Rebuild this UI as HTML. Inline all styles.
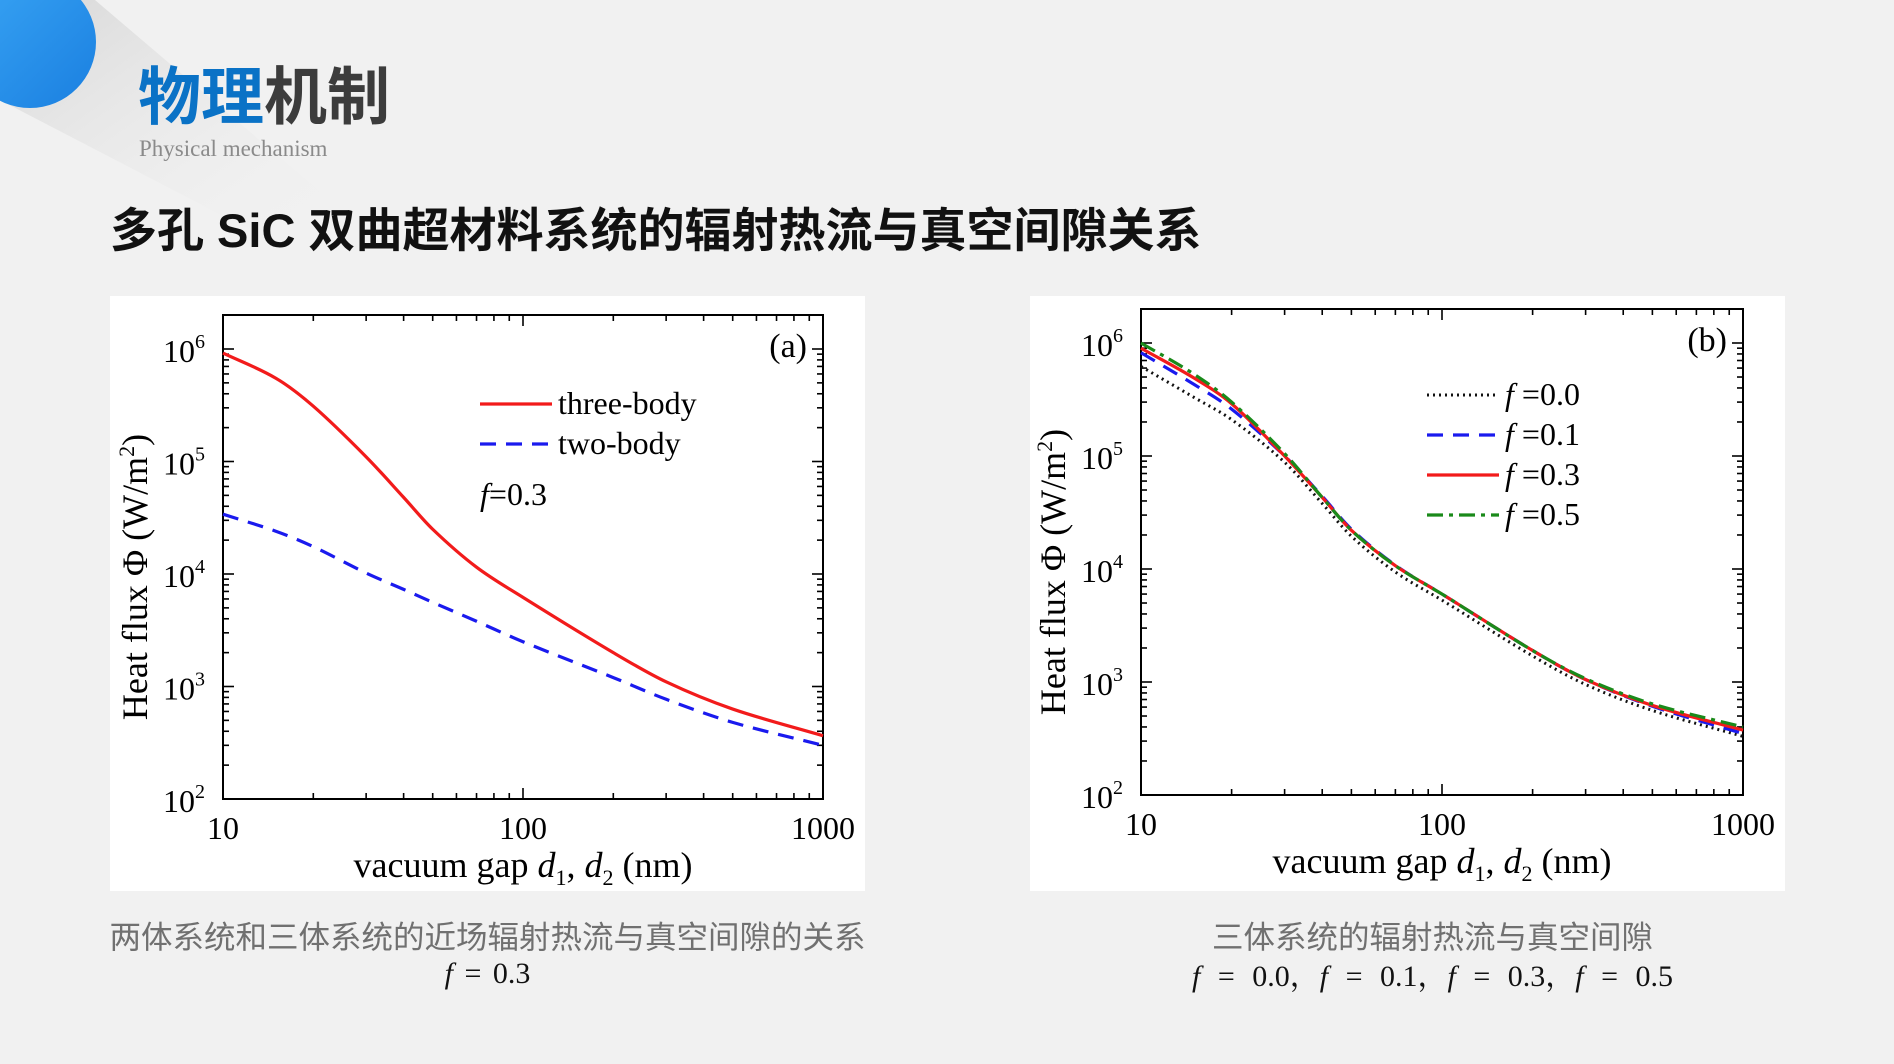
<!DOCTYPE html>
<html><head><meta charset="utf-8">
<style>
html,body{margin:0;padding:0}
body{width:1894px;height:1064px;background:#f1f1f1;position:relative;overflow:hidden;font-family:"Liberation Sans","Noto Sans CJK SC",sans-serif}
.abs{position:absolute}
.panel{position:absolute;background:#fff}
svg text{font-family:"Liberation Serif","Noto Serif CJK SC",serif}
</style></head>
<body>
<svg class="abs" style="left:0;top:0" width="420" height="300">
  <defs>
    <linearGradient id="sh" x1="0" y1="0" x2="1" y2="1">
      <stop offset="0" stop-color="#d6d6d6"/><stop offset="1" stop-color="#f1f1f1" stop-opacity="0"/>
    </linearGradient>
    <linearGradient id="cb" x1="0" y1="0" x2="1" y2="1">
      <stop offset="0" stop-color="#3aa6f5"/><stop offset="1" stop-color="#1a7fe0"/>
    </linearGradient>
  </defs>
  <polygon points="60,0 95,0 330,200 250,230 0,100 0,60" fill="url(#sh)"/>
  <circle cx="30" cy="42" r="66" fill="url(#cb)"/>
</svg>
<div class="abs" style="left:138px;top:58px;font-size:63px;font-weight:bold;line-height:80px;font-family:'Liberation Sans','Noto Sans CJK SC',sans-serif"><span style="color:#0a72c6">物理</span><span style="color:#3c3c3c">机制</span></div>
<div class="abs" style="left:139px;top:136px;font-size:23px;color:#8a8a8a;font-family:'Liberation Serif',serif">Physical mechanism</div>
<div class="abs" style="left:110px;top:200px;font-size:47px;font-weight:bold;color:#111;line-height:62px;white-space:nowrap">多孔 SiC 双曲超材料系统的辐射热流与真空间隙关系</div>

<div class="panel" style="left:110px;top:296px;width:755px;height:595px"></div>
<div class="panel" style="left:1030px;top:296px;width:755px;height:595px"></div>

<svg id="chart" class="abs" style="left:0;top:0" width="1894" height="1064"></svg>

<div class="abs" style="left:40px;width:895px;text-align:center;top:916px;font-size:31.5px;color:#707070;line-height:42px;white-space:nowrap">两体系统和三体系统的近场辐射热流与真空间隙的关系</div>
<div class="abs" style="left:60px;width:855px;text-align:center;top:957px;font-size:30px;color:#111;font-family:'Liberation Serif',serif;word-spacing:4px"><i>f</i> = 0.3</div>
<div class="abs" style="left:985px;width:895px;text-align:center;top:916px;font-size:31.5px;color:#707070;line-height:42px">三体系统的辐射热流与真空间隙</div>
<div class="abs" style="left:985px;width:895px;text-align:center;top:951px;font-size:30px;color:#111;font-family:'Liberation Serif','Noto Serif CJK SC',serif;word-spacing:10px;white-space:nowrap"><i>f</i> = 0.0，<i>f</i> = 0.1，<i>f</i> = 0.3，<i>f</i> = 0.5</div>

<script>
// ---- data ----
const gapsA = [10, 15, 20, 30, 40, 50, 70, 100, 200, 300, 500, 1000];
const threeBody = [9.2e5, 5.5e5, 3.1e5, 1.1e5, 4.8e4, 2.5e4, 1.15e4, 6.2e3, 2.0e3, 1.1e3, 630, 365];
const twoBody = [3.4e4, 2.4e4, 1.75e4, 1.02e4, 7.3e3, 5.6e3, 3.8e3, 2.5e3, 1.2e3, 770, 480, 300];
const gapsB = [10, 15, 20, 30, 40, 50, 70, 100, 200, 300, 500, 1000];
const f00 = [6.2e5, 3.3e5, 2.1e5, 8.8e4, 3.8e4, 1.95e4, 9.4e3, 5.3e3, 1.7e3, 950, 560, 330];
const f01 = [8.2e5, 4.3e5, 2.6e5, 1.0e5, 4.4e4, 2.25e4, 1.08e4, 6.0e3, 1.9e3, 1.05e3, 610, 350];
const f03 = [9.0e5, 4.9e5, 2.9e5, 1.0e5, 4.3e4, 2.2e4, 1.07e4, 6.0e3, 1.9e3, 1.05e3, 620, 375];
const f05 = [1.0e6, 5.3e5, 3.0e5, 1.05e5, 4.3e4, 2.2e4, 1.07e4, 6.0e3, 1.9e3, 1.07e3, 640, 400];
const xTickLabels = ["10", "100", "1000"];
const yTickExps = [2, 3, 4, 5, 6];

const NS = "http://www.w3.org/2000/svg";
const svg = document.getElementById("chart");
function mk(tag, attrs, parent) {
  const e = document.createElementNS(NS, tag);
  for (const k in attrs) e.setAttribute(k, attrs[k]);
  (parent || svg).appendChild(e);
  return e;
}

function makeChart(cfg) {
  const g = mk("g", {});
  
  
  const X = v => cfg.x0 + (Math.log10(v) - 1) / 2 * (cfg.x1 - cfg.x0);
  const Y = v => cfg.y2 - (Math.log10(v) - 2) / 4 * (cfg.y2 - cfg.y6);
  const top = cfg.top, bot = cfg.y2;
  for (let d = 1; d <= 2; d++) for (let m = 1; m <= 9; m++) {
    const v = m * Math.pow(10, d);
    const x = X(v), len = (m === 1) ? 11 : 6;
    mk("line", {x1: x, x2: x, y1: bot, y2: bot - len, stroke: "#000", "stroke-width": 1.6}, g);
    mk("line", {x1: x, x2: x, y1: top, y2: top + len, stroke: "#000", "stroke-width": 1.6}, g);
  }
  for (let d = 2; d <= 6; d++) for (let m = 1; m <= 9; m++) {
    const v = m * Math.pow(10, d); const y = Y(v);
    if (y < top) continue;
    const len = (m === 1) ? 11 : 6;
    mk("line", {x1: cfg.x0, x2: cfg.x0 + len, y1: y, y2: y, stroke: "#000", "stroke-width": 1.6}, g);
    mk("line", {x1: cfg.x1, x2: cfg.x1 - len, y1: y, y2: y, stroke: "#000", "stroke-width": 1.6}, g);
  }
  const frame = mk("rect", {x: cfg.x0, y: top, width: cfg.x1 - cfg.x0, height: bot - top, fill: "none", stroke: "#000", "stroke-width": 2}, g);
  
  
  xTickLabels.forEach(s => {
    const t = mk("text", {x: X(+s), y: bot + 40, "text-anchor": "middle", "font-size": 32}, g);
    t.textContent = s;
    
    
  });
  yTickExps.forEach(e => {
    const t = mk("text", {x: cfg.x0 - 18, y: Y(Math.pow(10, e)) + 13, "text-anchor": "end", "font-size": 32}, g);
    t.textContent = "10";
    const s = mk("tspan", {"font-size": 20, dy: -14}, t); s.textContent = e;
    
    
  });
  const xt = mk("text", {x: (cfg.x0 + cfg.x1) / 2, y: bot + 78, "text-anchor": "middle", "font-size": 36}, g);
  xt.innerHTML = 'vacuum gap <tspan font-style="italic">d</tspan><tspan font-size="22" dy="8">1</tspan><tspan dy="-8">, </tspan><tspan font-style="italic">d</tspan><tspan font-size="22" dy="8">2</tspan><tspan dy="-8"> (nm)</tspan>';
  
  
  const yt = mk("text", {transform: `translate(${cfg.x0 - 76},${(top + bot) / 2 + 20}) rotate(-90)`, "text-anchor": "middle", "font-size": 36}, g);
  yt.innerHTML = 'Heat flux Φ (W/m<tspan font-size="22" dy="-13">2</tspan><tspan dy="13">)</tspan>';
  
  
  const pl = mk("text", {x: cfg.x1 - 16, y: cfg.y6 + 8, "text-anchor": "end", "font-size": 34}, g);
  pl.textContent = cfg.label;
  
  
  return {g, X, Y};
}

function smoothPath(xs, ys, X, Y) {
  const px = xs.map(X), py = ys.map(Y), n = px.length;
  const m = [];
  for (let i = 0; i < n; i++) {
    if (i === 0) m.push((py[1] - py[0]) / (px[1] - px[0]));
    else if (i === n - 1) m.push((py[n - 1] - py[n - 2]) / (px[n - 1] - px[n - 2]));
    else m.push((py[i + 1] - py[i - 1]) / (px[i + 1] - px[i - 1]));
  }
  let d = `M${px[0]},${py[0]}`;
  for (let i = 0; i < n - 1; i++) {
    const h = (px[i + 1] - px[i]) / 3;
    d += ` C${px[i] + h},${py[i] + m[i] * h} ${px[i + 1] - h},${py[i + 1] - m[i + 1] * h} ${px[i + 1]},${py[i + 1]}`;
  }
  return d;
}

const A = makeChart({name: "chart-a", x0: 223, x1: 823, top: 315, y6: 349, y2: 799, label: "(a)"});
const sA1 = mk("path", {d: smoothPath(gapsA, threeBody, A.X, A.Y), fill: "none", stroke: "#f21b1b", "stroke-width": 3.2}, A.g);


const sA2 = mk("path", {d: smoothPath(gapsA, twoBody, A.X, A.Y), fill: "none", stroke: "#1a1aee", "stroke-width": 3.2, "stroke-dasharray": "16,10"}, A.g);


function legend(g, x, y, color, dash, html, name, sw) {
  const lg = mk("g", {}, g);
  
  
  mk("line", {x1: x, x2: x + 72, y1: y, y2: y, stroke: color, "stroke-width": sw || 3.2, "stroke-dasharray": dash}, lg);
  const t = mk("text", {x: x + 78, y: y + 10, "font-size": 32}, lg);
  t.innerHTML = html;
}
legend(A.g, 480, 404, "#f21b1b", "none", "three-body", "legend-three-body");
legend(A.g, 480, 444, "#1a1aee", "16,10", "two-body", "legend-two-body");
const fa = mk("text", {x: 480, y: 505, "font-size": 32}, A.g);
fa.innerHTML = '<tspan font-style="italic">f</tspan>=0.3';



const B = makeChart({name: "chart-b", x0: 1141, x1: 1743, top: 309, y6: 343, y2: 795, label: "(b)"});
const seriesB = [
  [f00, "#111", "2,4", "series-f00", 3],
  [f01, "#1a1aee", "16,10", "series-f01", 3.2],
  [f03, "#f21b1b", "none", "series-f03", 3.2],
  [f05, "#1a8a1a", "16,6,4,6", "series-f05", 3.2]
];
seriesB.forEach(s => {
  const p = mk("path", {d: smoothPath(gapsB, s[0], B.X, B.Y), fill: "none", stroke: s[1], "stroke-width": s[4], "stroke-dasharray": s[2]}, B.g);
  
  
});
const labsB = ["0.0", "0.1", "0.3", "0.5"];
seriesB.forEach((s, i) => {
  legend(B.g, 1427, 395 + i * 40, s[1], s[2], '<tspan font-style="italic">f</tspan> =' + labsB[i], "legend-" + s[3], s[4]);
});
</script>
</body></html>
